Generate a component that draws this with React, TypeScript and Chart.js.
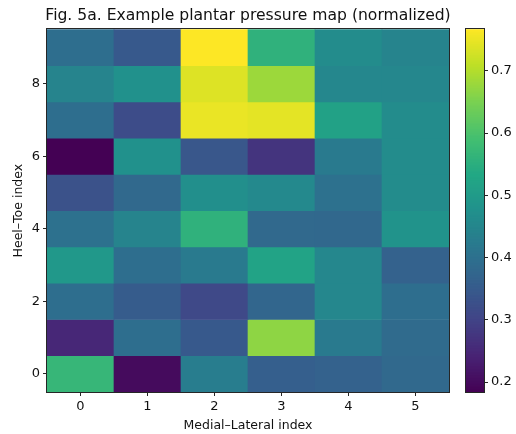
import React, { useEffect, useRef } from "react";
import { Chart, registerables } from "chart.js";

Chart.register(...registerables);

// ---- data ----
const colLabels = ["0", "1", "2", "3", "4", "5"];
const yTickValues = [0, 2, 4, 6, 8];
const cbTickValues = [0.2, 0.3, 0.4, 0.5, 0.6, 0.7];

// rows: index 0 = heel (bottom), 9 = toe (top); columns medial -> lateral
const row0 = [0.569, 0.2, 0.429, 0.359, 0.365, 0.382];
const row1 = [0.248, 0.394, 0.347, 0.668, 0.423, 0.388];
const row2 = [0.394, 0.353, 0.312, 0.376, 0.452, 0.394];
const row3 = [0.493, 0.394, 0.423, 0.522, 0.452, 0.365];
const row4 = [0.4, 0.446, 0.557, 0.382, 0.38, 0.481];
const row5 = [0.33, 0.382, 0.47, 0.458, 0.4, 0.464];
const row6 = [0.184, 0.476, 0.341, 0.272, 0.423, 0.464];
const row7 = [0.394, 0.318, 0.75, 0.744, 0.516, 0.464];
const row8 = [0.446, 0.476, 0.738, 0.68, 0.452, 0.452];
const row9 = [0.394, 0.347, 0.767, 0.557, 0.464, 0.446];

const rows = [row0, row1, row2, row3, row4, row5, row6, row7, row8, row9];

const titleText = "Fig. 5a. Example plantar pressure map (normalized)";
const xTitle = "Medial\u2013Lateral index";
const yTitle = "Heel\u2013Toe index";

// ---- colormap (viridis anchors) ----
const VIRIDIS = [
  "#440154", "#482475", "#414487", "#355f8d", "#2a788e", "#21918c",
  "#22a884", "#44bf70", "#7ad151", "#bddf26", "#fde725",
];
function hexToRgb(h: string) {
  return [parseInt(h.slice(1, 3), 16), parseInt(h.slice(3, 5), 16), parseInt(h.slice(5, 7), 16)];
}
const VIR_RGB = VIRIDIS.map(hexToRgb);
function viridis(t: number) {
  const tt = Math.max(0, Math.min(1, t)) * (VIR_RGB.length - 1);
  const i = Math.min(Math.floor(tt), VIR_RGB.length - 2);
  const f = tt - i;
  const a = VIR_RGB[i], b = VIR_RGB[i + 1];
  const c = a.map((v, k) => Math.round(v + (b[k] - v) * f));
  return `rgb(${c[0]},${c[1]},${c[2]})`;
}

const allVals = rows.flat();
const vmin = Math.min(...allVals);
const vmax = Math.max(...allVals);
const norm = (v: number) => (v - vmin) / (vmax - vmin);

const FONT = "'DejaVu Sans', sans-serif";
const TEXT = "#111111";
const SPINE = "#262626";

const outlinePlugin = {
  id: "outline",
  afterDatasetsDraw(chart: any) {
    const { ctx, chartArea } = chart;
    ctx.save();
    ctx.strokeStyle = SPINE;
    ctx.lineWidth = 1;
    const l = Math.round(chartArea.left) - 0.5;
    const t = Math.round(chartArea.top) - 0.5;
    const r = Math.round(chartArea.right) + 0.5;
    const b = Math.round(chartArea.bottom) + 0.5;
    ctx.strokeRect(l, t, r - l, b - t);
    ctx.restore();
  },
};

export default function App() {
  const mainRef = useRef<HTMLCanvasElement | null>(null);
  const cbRef = useRef<HTMLCanvasElement | null>(null);

  useEffect(() => {
    Chart.defaults.font.family = FONT;
    const cells: { col: number; row: number; v: number }[] = [];
    rows.forEach((r, ri) => r.forEach((v, ci) => cells.push({ col: ci, row: ri, v })));

    const main = new Chart(mainRef.current!, {
      type: "bar",
      data: {
        labels: colLabels,
        datasets: [
          {
            data: cells.map((c) => ({ x: colLabels[c.col], y: [c.row - 0.5, c.row + 0.5] })) as any,
            backgroundColor: cells.map((c) => viridis(norm(c.v))),
            borderWidth: 0,
            categoryPercentage: 1,
            barPercentage: 1,
          },
        ],
      },
      options: {
        responsive: false,
        animation: false,
        events: [],
        layout: { padding: 0 },
        plugins: {
          legend: { display: false },
          tooltip: { enabled: false },
          title: {
            display: true,
            text: titleText,
            color: TEXT,
            font: { family: FONT, size: 15.6, weight: "normal" },
            padding: { top: 6.6, bottom: 4 },
          },
        },
        scales: {
          x: {
            type: "category",
            offset: true,
            grid: { offset: false, drawOnChartArea: false, drawTicks: true, tickLength: 4, color: SPINE },
            border: { display: false },
            ticks: { color: TEXT, font: { family: FONT, size: 13 }, padding: 3, maxRotation: 0 },
            title: {
              display: true,
              text: xTitle,
              color: TEXT,
              font: { family: FONT, size: 12.5 },
              padding: { top: 0, bottom: 1 },
            },
            afterFit: (s: any) => {
              s.height = 42;
            },
          },
          y: {
            type: "linear",
            min: -0.5,
            max: 9.5,
            afterBuildTicks: (s: any) => {
              s.ticks = yTickValues.map((v) => ({ value: v }));
            },
            grid: { drawOnChartArea: false, drawTicks: true, tickLength: 4, color: SPINE },
            border: { display: false },
            ticks: { color: TEXT, font: { family: FONT, size: 13 }, padding: 3 },
            title: {
              display: true,
              text: yTitle,
              color: TEXT,
              font: { family: FONT, size: 12.5 },
              padding: { top: 11, bottom: 0 },
            },
            afterFit: (s: any) => {
              s.width = 47;
            },
          },
          // empty right-hand spacer axis so the plot ends where the reference's does
          spacer: {
            type: "linear",
            position: "right",
            min: 0,
            max: 1,
            grid: { display: false },
            border: { display: false },
            ticks: { display: false },
            afterFit: (s: any) => {
              s.width = 47;
            },
          },
        },
      },
      plugins: [outlinePlugin],
    });

    const N = 240;
    const steps = Array.from({ length: N }, (_, i) => i);
    const stepSize = (vmax - vmin) / N;
    const cb = new Chart(cbRef.current!, {
      type: "bar",
      data: {
        labels: ["cb"],
        datasets: [
          {
            data: steps.map((i) => ({
              x: "cb",
              y: [vmin + stepSize * i, Math.min(vmax, vmin + stepSize * (i + 2))],
            })) as any,
            backgroundColor: steps.map((i) => viridis((i + 0.5) / N)),
            borderWidth: 0,
            inflateAmount: 0,
            categoryPercentage: 1,
            barPercentage: 1,
          },
        ],
      },
      options: {
        responsive: false,
        animation: false,
        events: [],
        layout: { padding: { left: 6, right: 0, top: 29.2, bottom: 42 } },
        plugins: { legend: { display: false }, tooltip: { enabled: false }, title: { display: false } },
        scales: {
          x: { display: false, offset: true },
          y: {
            type: "linear",
            position: "right",
            min: vmin,
            max: vmax,
            afterBuildTicks: (s: any) => {
              s.ticks = cbTickValues.map((v) => ({ value: v }));
            },
            grid: { drawOnChartArea: false, drawTicks: true, tickLength: 4, color: SPINE },
            border: { display: false },
            ticks: {
              color: TEXT,
              font: { family: FONT, size: 13 },
              padding: 3,
              callback: (v: any) => Number(v).toFixed(1),
            },
            afterFit: (s: any) => {
              s.width = 32;
            },
          },
        },
      },
      plugins: [outlinePlugin],
    });

    return () => {
      main.destroy();
      cb.destroy();
    };
  }, []);

  return (
    <div
      style={{
        position: "absolute",
        left: 0,
        top: 0,
        width: 516,
        height: 434,
        overflow: "hidden",
        background: "#fff",
      }}
    >
      <canvas
        ref={mainRef}
        width={496}
        height={434}
        style={{ position: "absolute", left: 0, top: 0, width: 496, height: 434 }}
      />
      <canvas
        ref={cbRef}
        width={56}
        height={434}
        style={{ position: "absolute", left: 460, top: 0, width: 56, height: 434 }}
      />
    </div>
  );
}
